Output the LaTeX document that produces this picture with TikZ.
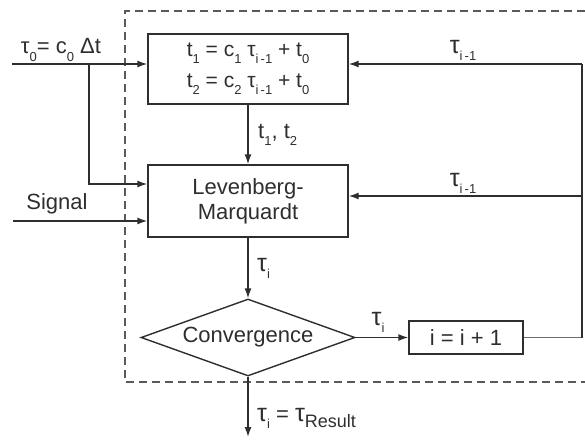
\documentclass[tikz,border=0pt]{standalone}
\usepackage{fontspec}
\setmainfont{Liberation Sans}
\usetikzlibrary{arrows.meta,shapes.geometric}
\definecolor{ink}{HTML}{2E2E2E}
\definecolor{frame}{HTML}{5A5A5A}
% lowered small index
\newcommand{\lowsub}[1]{\raisebox{-0.32em}{\fontsize{13}{13}\selectfont #1}}
\newcommand{\bigsub}[1]{\raisebox{-0.3em}{\fontsize{18}{18}\selectfont #1}}
% larger tau used in the signal labels
\newcommand{\tauL}{{\fontsize{25}{25}\selectfont τ}}
\begin{document}
\begin{tikzpicture}[x=1pt,y=-1pt,
  font=\fontsize{22}{25}\selectfont, text=ink,
  block/.style={draw=ink, line width=1.4pt, rectangle, inner sep=0pt, align=center},
  decide/.style={draw=ink, line width=1.4pt, diamond, aspect=2.78, inner sep=0pt,
    minimum width=214pt, minimum height=77pt},
  flow/.style={draw=ink, line width=1.4pt, -{Latex[length=10pt,width=7pt]}},
  wire/.style={draw=ink, line width=1.4pt},
  thinwire/.style={draw=ink!70, line width=1pt},
  boundary/.style={draw=frame, line width=1.3pt, dash pattern=on 8pt off 5pt},
  lbl/.style={inner sep=0pt}]
\useasboundingbox (0,0) rectangle (585,439);

% dashed frame around the iteration
\draw[boundary] (585,11) -- (125,11) -- (125,382) -- (585,382);

% blocks
\node[block, minimum width=200pt, minimum height=70pt, font=\fontsize{21}{25}\selectfont] (times) at (248,69)
  {t\lowsub{1} = c\lowsub{1} τ\lowsub{i\,-1} + t\lowsub{0}\\[6pt]
   t\lowsub{2} = c\lowsub{2} τ\lowsub{i\,-1} + t\lowsub{0}};
\node[block, minimum width=200pt, minimum height=72pt] (lm) at (248,201)
  {Levenberg-\\Marquardt};
\node[decide] (conv) at (248,337.5) {Convergence};
\node[block, minimum width=114pt, minimum height=33pt] (inc) at (466,337.5)
  {i = i + 1};

% feedback and input points
\coordinate (in0) at (12,64);
\coordinate (br) at (89,64);
\coordinate (brdown) at (89,184);
\coordinate (sig) at (13,221);
\coordinate (fbbot) at (582,337.5);
\coordinate (fbtop) at (582,64);
\coordinate (fbmid) at (582,196);
\coordinate (out) at (248,437);

% inputs
\draw[flow] (in0) -- (in0 -| times.west);
\draw[flow] (br) -- (brdown) -- (brdown -| lm.west);
\draw[flow] (sig) -- (sig -| lm.west);

% main chain
\draw[flow] (times.south) -- (lm.north);
\draw[flow] (lm.south) -- (conv.north);
\draw[flow] (conv.east) -- (inc.west);
\draw[flow] (conv.south) -- (out);

% feedback loop
\draw[thinwire] (inc.east) -- (fbbot);
\draw[wire] (fbbot) -- (fbtop);
\draw[flow] (fbtop) -- (fbtop -| times.east);
\draw[flow] (fbmid) -- (fbmid -| lm.east);

% labels
\node[lbl] (l0) at (61,50) {τ\lowsub{0}= c\lowsub{0} Δt};
\node[lbl] (lsig) at (57,204) {Signal};
\node[lbl, anchor=west] (lt) at (258,135) {t\lowsub{1}, t\lowsub{2}};
\node[lbl, anchor=west] (lti) at (257,268) {\tauL\lowsub{i}};
\node[lbl] (ltc) at (378,322) {\tauL\lowsub{i}};
\node[lbl] (ltop) at (463,50) {\tauL\lowsub{i\,-1}};
\node[lbl] (lmid) at (463,183) {\tauL\lowsub{i\,-1}};
\node[lbl, anchor=west] (lres) at (257,418) {\tauL\lowsub{i} = \tauL\bigsub{Result}};
\end{tikzpicture}
\end{document}
